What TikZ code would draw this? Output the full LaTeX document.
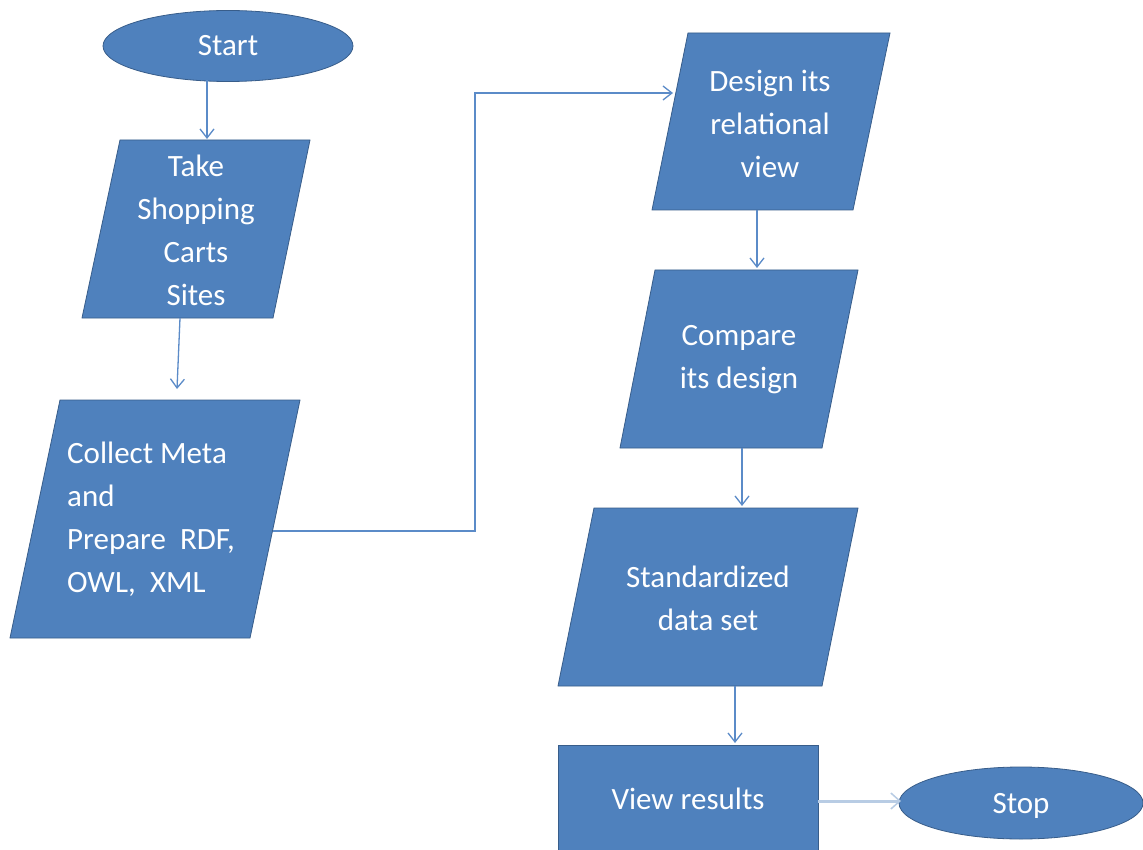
\documentclass[tikz,border=0pt]{standalone}
\usepackage{fontspec}
\setmainfont{Carlito}
\usetikzlibrary{arrows.meta,shapes.geometric}
\definecolor{boxfill}{HTML}{4F81BD}
\definecolor{boxline}{HTML}{385D8A}
\definecolor{wire}{HTML}{5B8BC8}
\definecolor{wirelight}{HTML}{B8CCE4}
\tikzset{
  shapefill/.style={fill=boxfill, draw=boxline, line width=0.8pt},
  label/.style={text=white, font=\fontsize{31}{43}\selectfont, align=center, inner sep=0pt},
  flow/.style={draw=wire, line width=1.3pt, -{Straight Barb[length=9pt,width=14pt,line width=1.3pt]}},
  flowwide/.style={draw=wirelight, line width=3pt, -{Straight Barb[length=9pt,width=16pt,line width=1.5pt]}},
}
\begin{document}
\begin{tikzpicture}[x=1pt,y=-1pt]
\useasboundingbox (0,0) rectangle (1143,850);
\clip (0,0) rectangle (1143,850);
\fill[white] (0,0) rectangle (1143,850);

% terminals
\node[ellipse, shapefill, minimum width=250pt, minimum height=71pt, inner sep=0pt] (start) at (228,46) {};
\node[label] (startT) at (228,46) {Start};
\node[ellipse, shapefill, minimum width=244pt, minimum height=72pt, inner sep=0pt] (stop) at (1021,803) {};
\node[label] (stopT) at (1021,806) {Stop};

% input/output parallelograms
\path[shapefill] (120,140) -- (310,140) -- (273,318) -- (82,318) -- cycle;
\node[label] (take) at (196,230) {Take\\Shopping\\Carts\\Sites};

\path[shapefill] (60,400) -- (300,400) -- (250,638) -- (10,638) -- cycle;
\node[label, align=left, anchor=west] (collect) at (67,519) {Collect Meta\\and\\Prepare\ \ RDF,\\OWL,\ \ XML};

\path[shapefill] (688,33) -- (890,33) -- (853,210) -- (652,210) -- cycle;
\node[label] (design) at (770,124) {Design its\\relational\\view};

\path[shapefill] (655,270) -- (858,270) -- (822,448) -- (620,448) -- cycle;
\node[label] (compare) at (739,360) {Compare\\its design};

\path[shapefill] (594,508) -- (858,508) -- (822,686) -- (558,686) -- cycle;
\node[label] (standard) at (708,598) {Standardized\\data set};

% process box
\path[shapefill] (558,745) rectangle (818,860);
\node[label] (view) at (688,799) {View results};

% connector end points
\coordinate (startB) at (207,80);
\coordinate (takeTop) at (207,139);
\coordinate (takeB) at (180,318);
\coordinate (collectTop) at (177,389);
\coordinate (collectR) at (273,531);
\coordinate (designL) at (673,93);
\coordinate (designB) at (757,210);
\coordinate (compareTop) at (757,268);
\coordinate (compareB) at (742,448);
\coordinate (standardTop) at (742,506);
\coordinate (standardB) at (735,686);
\coordinate (viewTop) at (735,743);
\coordinate (viewR) at (818,801);
\coordinate (stopL) at (901,801);

% connectors
\draw[flow] (startB) -- (takeTop);
\draw[flow] (takeB) -- (collectTop);
\draw[flow] (collectR) -- (475,531) -- (475,93) -- (designL);
\draw[flow] (designB) -- (compareTop);
\draw[flow] (compareB) -- (standardTop);
\draw[flow] (standardB) -- (viewTop);
\draw[flowwide] (viewR) -- (stopL);
\end{tikzpicture}
\end{document}
